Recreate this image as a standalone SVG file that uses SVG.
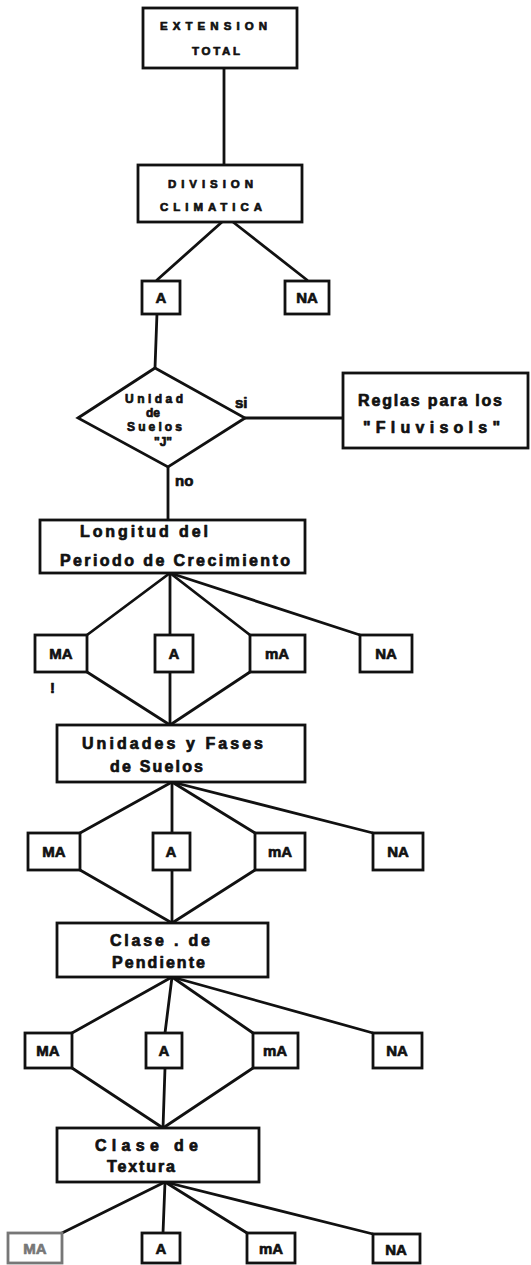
<svg xmlns="http://www.w3.org/2000/svg" width="531" height="1265" viewBox="0 0 531 1265">
<style>
.bx{fill:#fff;stroke:#111;stroke-width:2.8}
.ln{stroke:#111;stroke-width:2.8;fill:none;stroke-linecap:round}
.t{font-family:"Liberation Sans",Arial,sans-serif;font-weight:bold;fill:#111;stroke:#111;stroke-width:0.7;stroke-linejoin:round}
.cap{font-size:11.5px}
.big{font-size:16px}
.sm{font-size:15px}
.dm{font-size:12px}
</style>
<rect width="531" height="1265" fill="#fff"/>
<g id="connectors">
<line class="ln" x1="224" y1="68" x2="224" y2="165"/>
<line class="ln" x1="222" y1="222" x2="157" y2="280"/>
<line class="ln" x1="233" y1="222" x2="307" y2="280"/>
<line class="ln" x1="157" y1="313" x2="155" y2="368"/>
<line class="ln" x1="245" y1="418" x2="343" y2="418"/>
<line class="ln" x1="168" y1="467" x2="168" y2="520"/>
<line class="ln" x1="170" y1="573" x2="87" y2="635"/>
<line class="ln" x1="170" y1="573" x2="170" y2="635"/>
<line class="ln" x1="170" y1="573" x2="250" y2="635"/>
<line class="ln" x1="170" y1="573" x2="360" y2="635"/>
<line class="ln" x1="87" y1="672" x2="170" y2="725"/>
<line class="ln" x1="170" y1="672" x2="170" y2="725"/>
<line class="ln" x1="250" y1="672" x2="170" y2="725"/>
<line class="ln" x1="172" y1="782" x2="80" y2="833"/>
<line class="ln" x1="172" y1="782" x2="172" y2="833"/>
<line class="ln" x1="172" y1="782" x2="255" y2="833"/>
<line class="ln" x1="172" y1="782" x2="373" y2="833"/>
<line class="ln" x1="80" y1="870" x2="172" y2="923"/>
<line class="ln" x1="172" y1="870" x2="172" y2="923"/>
<line class="ln" x1="255" y1="870" x2="172" y2="923"/>
<line class="ln" x1="172" y1="977" x2="72" y2="1033"/>
<line class="ln" x1="172" y1="977" x2="165" y2="1033"/>
<line class="ln" x1="172" y1="977" x2="253" y2="1033"/>
<line class="ln" x1="172" y1="977" x2="373" y2="1033"/>
<line class="ln" x1="72" y1="1068" x2="163" y2="1128"/>
<line class="ln" x1="165" y1="1068" x2="163" y2="1128"/>
<line class="ln" x1="253" y1="1068" x2="163" y2="1128"/>
<line class="ln" x1="165" y1="1182" x2="62" y2="1233"/>
<line class="ln" x1="165" y1="1182" x2="163" y2="1233"/>
<line class="ln" x1="165" y1="1182" x2="247" y2="1233"/>
<line class="ln" x1="165" y1="1182" x2="373" y2="1234"/>
</g>
<g id="extension-total">
<rect class="bx" x="143" y="8" width="154" height="60"/>
<text class="t cap" x="160" y="30" textLength="107" lengthAdjust="spacing">EXTENSION</text>
<text class="t cap" x="192" y="55" textLength="48" lengthAdjust="spacing">TOTAL</text>
</g>
<g id="division-climatica">
<rect class="bx" x="138" y="165" width="164" height="57"/>
<text class="t cap" x="168" y="188" textLength="85" lengthAdjust="spacing">DIVISION</text>
<text class="t cap" x="160" y="211" textLength="102" lengthAdjust="spacing">CLIMATICA</text>
</g>
<g id="dc-a">
<rect class="bx" x="142" y="281" width="38" height="33"/>
<text class="t sm" x="161" y="303" text-anchor="middle">A</text>
</g>
<g id="dc-na">
<rect class="bx" x="285" y="281" width="44" height="33"/>
<text class="t sm" x="307" y="303" text-anchor="middle">NA</text>
</g>
<g id="unidad-suelos-j">
<polygon class="bx" points="155,368 245,418 168,467 78,418"/>
<text class="t dm" x="125" y="403" textLength="58" lengthAdjust="spacing">Unidad</text>
<text class="t dm" x="153" y="417" text-anchor="middle">de</text>
<text class="t dm" x="127" y="431" textLength="55" lengthAdjust="spacing">Suelos</text>
<text class="t dm" x="163" y="446" text-anchor="middle">"J"</text>
</g>
<g id="labels">
<text class="t" font-size="15" x="235" y="408">si</text>
<text class="t" font-size="15" x="175" y="486">no</text>
<text class="t sm" x="50" y="693">!</text>
</g>
<g id="reglas-fluvisols">
<rect class="bx" x="343" y="373" width="185" height="75"/>
<text class="t" font-size="16" x="358" y="406" textLength="144" lengthAdjust="spacing">Reglas  para los</text>
<text class="t" font-size="16" x="363" y="433" textLength="137" lengthAdjust="spacing">"Fluvisols"</text>
</g>
<g id="longitud-periodo">
<rect class="bx" x="40" y="520" width="265" height="53"/>
<text class="t big" x="80" y="537" textLength="128" lengthAdjust="spacing">Longitud  del</text>
<text class="t big" x="60" y="566" textLength="230" lengthAdjust="spacing">Periodo de  Crecimiento</text>
</g>
<g id="r1-ma"><rect class="bx" x="35" y="635" width="52" height="37"/><text class="t sm" x="61" y="659" text-anchor="middle">MA</text></g>
<g id="r1-a"><rect class="bx" x="155" y="635" width="38" height="37"/><text class="t sm" x="174" y="659" text-anchor="middle">A</text></g>
<g id="r1-ma2"><rect class="bx" x="250" y="635" width="55" height="37"/><text class="t sm" x="277" y="659" text-anchor="middle">mA</text></g>
<g id="r1-na"><rect class="bx" x="360" y="635" width="52" height="37"/><text class="t sm" x="386" y="659" text-anchor="middle">NA</text></g>
<g id="unidades-fases">
<rect class="bx" x="57" y="725" width="248" height="57"/>
<text class="t big" x="82" y="749" textLength="181" lengthAdjust="spacing">Unidades y  Fases</text>
<text class="t big" x="110" y="772" textLength="93" lengthAdjust="spacing">de Suelos</text>
</g>
<g id="r2-ma"><rect class="bx" x="28" y="833" width="52" height="37"/><text class="t sm" x="54" y="857" text-anchor="middle">MA</text></g>
<g id="r2-a"><rect class="bx" x="153" y="833" width="37" height="37"/><text class="t sm" x="171" y="857" text-anchor="middle">A</text></g>
<g id="r2-ma2"><rect class="bx" x="255" y="833" width="50" height="37"/><text class="t sm" x="280" y="857" text-anchor="middle">mA</text></g>
<g id="r2-na"><rect class="bx" x="373" y="833" width="50" height="37"/><text class="t sm" x="398" y="857" text-anchor="middle">NA</text></g>
<g id="clase-pendiente">
<rect class="bx" x="57" y="923" width="211" height="54"/>
<text class="t big" x="110" y="946" textLength="100" lengthAdjust="spacing">Clase . de</text>
<text class="t big" x="112" y="968" textLength="93" lengthAdjust="spacing">Pendiente</text>
</g>
<g id="r3-ma"><rect class="bx" x="25" y="1033" width="47" height="35"/><text class="t sm" x="48" y="1056" text-anchor="middle">MA</text></g>
<g id="r3-a"><rect class="bx" x="146" y="1033" width="36" height="35"/><text class="t sm" x="164" y="1056" text-anchor="middle">A</text></g>
<g id="r3-ma2"><rect class="bx" x="253" y="1033" width="45" height="35"/><text class="t sm" x="275" y="1056" text-anchor="middle">mA</text></g>
<g id="r3-na"><rect class="bx" x="373" y="1033" width="49" height="35"/><text class="t sm" x="397" y="1056" text-anchor="middle">NA</text></g>
<g id="clase-textura">
<rect class="bx" x="57" y="1128" width="202" height="54"/>
<text class="t big" x="95" y="1151" textLength="103" lengthAdjust="spacing">Clase   de</text>
<text class="t big" x="107" y="1172" textLength="68" lengthAdjust="spacing">Textura</text>
</g>
<g id="r4-ma"><rect class="bx" x="8" y="1233" width="54" height="30" style="stroke:#777"/><text class="t sm" x="35" y="1254" text-anchor="middle" style="fill:#777;stroke:#777">MA</text></g>
<g id="r4-a"><rect class="bx" x="142" y="1233" width="38" height="30"/><text class="t sm" x="161" y="1254" text-anchor="middle">A</text></g>
<g id="r4-ma2"><rect class="bx" x="247" y="1233" width="48" height="30"/><text class="t sm" x="271" y="1254" text-anchor="middle">mA</text></g>
<g id="r4-na"><rect class="bx" x="373" y="1234" width="47" height="29"/><text class="t sm" x="396" y="1255" text-anchor="middle">NA</text></g>
</svg>
